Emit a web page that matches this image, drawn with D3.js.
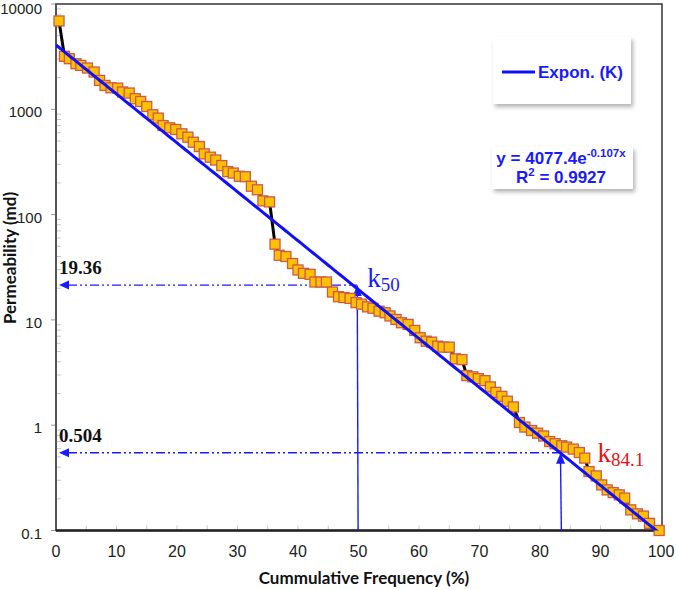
<!DOCTYPE html>
<html>
<head>
<meta charset="utf-8">
<script src="https://cdn.jsdelivr.net/npm/d3@7"></script>
<style>
  body { margin: 0; background: #fff; }
  svg { display: block; }
  .tick-label { font-family: "Liberation Sans", Arial, sans-serif; font-size: 16px; fill: #222; }
  .axis-title { font-family: Lato, "Open Sans", sans-serif; font-weight: bold; font-size: 17px; fill: #111; }
  .box-text { font-family: "Liberation Sans", Arial, sans-serif; font-weight: bold; fill: #1a1aff; }
  .ref-value { font-family: "Liberation Serif", "Times New Roman", serif; font-weight: bold; font-size: 19px; fill: #111; }
  .k-label { font-family: "Liberation Serif", "Times New Roman", serif; }
</style>
</head>
<body>
<svg width="676" height="590"></svg>
<script>
// Cumulative frequency (%) of each sample
var freq = [0.5, 1.4, 2.2, 3.3, 4.1, 5.2, 6.3, 7.2, 8.1, 9.1,
  10.2, 11.0, 12.1, 13.1, 14.0, 15.0, 16.0, 16.9, 17.7, 18.8,
  19.8, 20.8, 21.8, 22.7, 23.7, 24.5, 25.5, 26.4, 27.4, 28.4,
  29.3, 30.3, 31.3, 32.3, 33.3, 34.2, 35.3, 36.2, 36.9, 38.0,
  39.1, 40.0, 40.9, 42.0, 42.8, 43.8, 44.7, 45.7, 46.7, 47.6,
  48.6, 49.6, 50.5, 51.5, 52.4, 53.4, 54.4, 55.2, 56.2, 57.1,
  58.2, 59.3, 60.2, 61.2, 62.1, 63.1, 64.0, 65.0, 66.0, 67.1,
  67.9, 68.9, 69.8, 70.9, 71.8, 72.7, 73.7, 74.6, 75.6, 76.6,
  77.5, 78.6, 79.6, 80.6, 81.6, 82.5, 83.6, 84.4, 85.5, 86.5,
  87.4, 88.1, 89.3, 90.2, 91.1, 92.1, 93.1, 94.0, 95.0, 96.1,
  97.1, 98.1, 99.7];

// Permeability (md) of each sample
var perm = [6900, 3185, 3025, 2710, 2610, 2465, 2260, 1880, 1685, 1600,
  1590, 1460, 1427, 1260, 1187, 1063, 887, 825, 701, 667,
  643, 585, 544, 487, 443, 377, 351, 330, 292, 256,
  248, 231, 229, 186, 172, 135, 132, 52.4, 41.1, 40,
  34.3, 29.8, 27.7, 27.1, 22.9, 22.9, 22.9, 18.4, 16.6, 16.3,
  16.0, 14.6, 14.1, 13.3, 12.9, 12.1, 11.7, 10.9, 10.1, 9.4,
  9.06, 7.94, 6.77, 6.28, 6.15, 5.63, 5.51, 5.51, 4.27, 4.2,
  2.96, 2.88, 2.77, 2.65, 2.31, 2.05, 1.88, 1.69, 1.49, 1.06,
  0.96, 0.89, 0.84, 0.79, 0.70, 0.667, 0.638, 0.62, 0.593, 0.55,
  0.487, 0.363, 0.33, 0.271, 0.243, 0.229, 0.218, 0.203, 0.157, 0.144,
  0.137, 0.117, 0.1];

var xTicks = [0, 10, 20, 30, 40, 50, 60, 70, 80, 90, 100];
var yTicks = [0.1, 1, 10, 100, 1000, 10000];

// exponential trend line y = a * e^(b x)
var trendA = 4077.4, trendB = -0.107;

// reading of k50 and k84.1 (arrow positions as drawn)
var refFreq = [49.8, 83.4];
var refPerm = [21.4, 0.548];
var refText = ["19.36", "0.504"];

var svg = d3.select("svg"),
  width = +svg.attr("width"),
  height = +svg.attr("height");

svg.append("rect").attr("width", width).attr("height", height).attr("fill", "#fff");

// plot area edges
var plotL = 56, plotR = 662, plotT = 4, plotB = 530.5;

var x = d3.scaleLinear().domain([0, 100]).range([plotL, 661]);
var y = d3.scaleLog().domain([0.1, 10000]).range([plotB, plotT]);

// drop shadow for the two boxes
var defs = svg.append("defs");
var f = defs.append("filter").attr("id", "shadow")
  .attr("x", "-20%").attr("y", "-20%").attr("width", "140%").attr("height", "160%");
f.append("feDropShadow").attr("dx", 2).attr("dy", 3).attr("stdDeviation", 2)
  .attr("flood-color", "#000").attr("flood-opacity", 0.3);
defs.append("clipPath").attr("id", "plot-clip")
  .append("rect").attr("x", plotL).attr("y", plotT)
  .attr("width", plotR - plotL).attr("height", plotB - plotT);

// minor ticks on the y axis (inside)
var minor = [];
yTicks.slice(0, -1).forEach(function(d) {
  for (var m = 2; m <= 9; m++) minor.push(d * m);
});
svg.append("g").selectAll("line").data(minor).enter().append("line")
  .attr("x1", plotL).attr("x2", plotL + 5)
  .attr("y1", function(d) { return y(d); }).attr("y2", function(d) { return y(d); })
  .attr("stroke", "#c8c8c8").attr("stroke-width", 1);

// major ticks on the y axis (outside)
svg.append("g").selectAll("line").data(yTicks).enter().append("line")
  .attr("x1", plotL - 5).attr("x2", plotL)
  .attr("y1", function(d) { return y(d); }).attr("y2", function(d) { return y(d); })
  .attr("stroke", "#999").attr("stroke-width", 1);

// small ticks on the x axis every 5%
svg.append("g").selectAll("line").data(d3.range(5, 100, 5)).enter().append("line")
  .attr("x1", function(d) { return x(d); }).attr("x2", function(d) { return x(d); })
  .attr("y1", plotB - 5).attr("y2", plotB)
  .attr("stroke", "#c8c8c8").attr("stroke-width", 1);

// plot frame and axes
svg.append("rect").attr("x", plotL).attr("y", plotT)
  .attr("width", plotR - plotL).attr("height", plotB - plotT)
  .attr("fill", "none").attr("stroke", "#333").attr("stroke-width", 1.5);
svg.append("line").attr("x1", plotL).attr("x2", plotL).attr("y1", plotT).attr("y2", plotB)
  .attr("stroke", "#555").attr("stroke-width", 2);
svg.append("line").attr("x1", plotL).attr("x2", plotR).attr("y1", plotB).attr("y2", plotB)
  .attr("stroke", "#222").attr("stroke-width", 2.5);

// tick labels (the top one is kept inside the picture)
svg.append("g").selectAll("text").data(yTicks).enter().append("text")
  .attr("class", "tick-label")
  .style("font-size", "15px")
  .attr("x", 42).attr("y", function(d) { return Math.max(y(d) + 8, 14); })
  .attr("text-anchor", "end")
  .text(function(d) { return d3.format("")(d); });

svg.append("g").selectAll("text").data(xTicks).enter().append("text")
  .attr("class", "tick-label")
  .attr("x", function(d) { return x(d); }).attr("y", 557)
  .attr("text-anchor", "middle")
  .text(function(d) { return d; });

// axis titles
svg.append("text").attr("class", "axis-title")
  .attr("transform", "translate(16,258) rotate(-90)")
  .attr("text-anchor", "middle")
  .text("Permeability (md)");
svg.append("text").attr("class", "axis-title")
  .attr("x", 364).attr("y", 584)
  .attr("text-anchor", "middle")
  .text("Cummulative Frequency (%)");

// reference lines for k50 and k84.1
var refs = refFreq.map(function(d, i) { return {f: d, p: refPerm[i], t: refText[i]}; });
var gRef = svg.append("g");
refs.forEach(function(r) {
  var yy = y(r.p), xx = x(r.f);
  // dash-dot-dot horizontal line with arrow to the axis
  gRef.append("line")
    .attr("x1", plotL + 12).attr("x2", xx).attr("y1", yy).attr("y2", yy)
    .attr("stroke", "#1a1aff").attr("stroke-width", 1.4)
    .attr("stroke-dasharray", "9,3,2,3,2,3");
  gRef.append("path")
    .attr("d", "M" + (plotL + 3) + "," + yy + "L" + (plotL + 13) + "," + (yy - 4.5) +
      "L" + (plotL + 13) + "," + (yy + 4.5) + "Z")
    .attr("fill", "#1a1aff");
  // vertical line with arrow up to the trend line
  gRef.append("line")
    .attr("x1", xx).attr("x2", xx + 0.8).attr("y1", yy + 10).attr("y2", plotB)
    .attr("stroke", "#1a1aff").attr("stroke-width", 1.4);
  gRef.append("path")
    .attr("d", "M" + xx + "," + yy + "L" + (xx - 4.5) + "," + (yy + 11) +
      "L" + (xx + 4.5) + "," + (yy + 11) + "Z")
    .attr("fill", "#1a1aff");
  gRef.append("text").attr("class", "ref-value")
    .attr("x", plotL + 3).attr("y", yy - 11)
    .text(r.t);
});

// black line joining the samples
var pts = freq.map(function(d, i) { return [d, perm[i]]; });
svg.append("path").datum(pts)
  .attr("d", d3.line().x(function(d) { return x(d[0]); }).y(function(d) { return y(d[1]); }))
  .attr("fill", "none").attr("stroke", "#000").attr("stroke-width", 3);

// sample markers
svg.append("g").selectAll("rect").data(pts).enter().append("rect")
  .attr("x", function(d) { return x(d[0]) - 5; })
  .attr("y", function(d) { return y(d[1]) - 5; })
  .attr("width", 10).attr("height", 10)
  .attr("fill", "#ffc000").attr("stroke", "#cc5a4a").attr("stroke-width", 1.3);

// exponential trend line
var trend = d3.range(0, 100.01, 0.5).map(function(d) { return [d, trendA * Math.exp(trendB * d)]; });
svg.append("path").datum(trend)
  .attr("clip-path", "url(#plot-clip)")
  .attr("d", d3.line().x(function(d) { return x(d[0]); }).y(function(d) { return y(Math.max(d[1], 0.05)); }))
  .attr("fill", "none").attr("stroke", "#1010ff").attr("stroke-width", 3);

// k labels
var k50 = svg.append("text").attr("class", "k-label")
  .attr("x", x(refFreq[0]) + 10).attr("y", y(refPerm[0]) + 2).attr("fill", "#1a1aff");
k50.append("tspan").attr("font-size", 27).text("k");
k50.append("tspan").attr("font-size", 19).attr("dy", 4).text("50");

var k84 = svg.append("text").attr("class", "k-label")
  .attr("x", x(refFreq[1]) + 37).attr("y", y(refPerm[1]) + 9).attr("fill", "#ee1111");
k84.append("tspan").attr("font-size", 27).text("k");
k84.append("tspan").attr("font-size", 19).attr("dy", 4).text("84.1");

// legend box
var gLeg = svg.append("g");
gLeg.append("rect").attr("x", 493).attr("y", 37).attr("width", 138).attr("height", 67)
  .attr("fill", "#fff").attr("filter", "url(#shadow)");
gLeg.append("line").attr("x1", 502).attr("x2", 535).attr("y1", 72).attr("y2", 72)
  .attr("stroke", "#1010ff").attr("stroke-width", 3);
gLeg.append("text").attr("class", "box-text").attr("font-size", 17)
  .attr("x", 538).attr("y", 78).text("Expon. (K)");

// equation box
var gEq = svg.append("g");
gEq.append("rect").attr("x", 492).attr("y", 147).attr("width", 141).attr("height", 42)
  .attr("fill", "#fff").attr("filter", "url(#shadow)");
var eq = gEq.append("text").attr("class", "box-text").attr("font-size", 17)
  .attr("x", 561).attr("y", 164).attr("text-anchor", "middle");
eq.append("tspan").text("y = " + trendA + "e");
eq.append("tspan").attr("font-size", 11.5).attr("dy", -7).text(trendB + "x");
var r2 = gEq.append("text").attr("class", "box-text").attr("font-size", 17)
  .attr("x", 561).attr("y", 183).attr("text-anchor", "middle");
r2.append("tspan").text("R");
r2.append("tspan").attr("font-size", 11.5).attr("dy", -7).text("2");
r2.append("tspan").attr("dy", 7).text(" = 0.9927");
</script>
</body>
</html>
